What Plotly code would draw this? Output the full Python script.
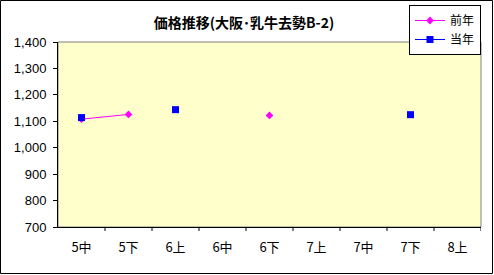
import plotly.graph_objects as go

categories = ["5中", "5下", "6上", "6中", "6下", "7上", "7中", "7下", "8上"]
prev_year = [1108, 1126, None, None, 1122, None, None, None, None]
curr_year = [1114, None, 1144, None, None, None, None, 1125, None]
y_ticks = [700, 800, 900, 1000, 1100, 1200, 1300, 1400]

FONT = "Noto Sans CJK JP"
x_idx = list(range(len(categories)))

L, R, T, B = 58, 13, 42, 48
W, H = 494, 275
PW, PH = W - L - R, H - T - B

fig = go.Figure()
fig.add_trace(go.Scatter(
    x=x_idx, y=prev_year, name="前年", mode="lines+markers",
    line=dict(color="#FF00FF", width=1),
    marker=dict(symbol="diamond", size=6, color="#FF00FF"),
    connectgaps=False,
))
fig.add_trace(go.Scatter(
    x=x_idx, y=curr_year, name="当年", mode="lines+markers",
    line=dict(color="#0000FF", width=1),
    marker=dict(symbol="square", size=7, color="#0000FF"),
    connectgaps=False,
))

fig.update_layout(
    width=W, height=H,
    margin=dict(l=L, r=R, t=T, b=B, autoexpand=False),
    paper_bgcolor="white",
    plot_bgcolor="#FFFFCC",
    font=dict(family=FONT, size=12, color="black"),
    title=dict(text="<b>価格推移(大阪･乳牛去勢B-2)</b>", x=0.494, xanchor="center",
               y=1 - 23 / H, yanchor="middle", font=dict(family=FONT, size=14, color="black")),
    showlegend=True,
    legend=dict(x=1.0, xanchor="right", y=1 + 37 / PH, yanchor="top",
                bordercolor="black", borderwidth=1, bgcolor="white",
                font=dict(family=FONT, size=12), tracegroupgap=0,
                itemwidth=30),
    xaxis=dict(
        tickmode="array", tickvals=x_idx, ticktext=categories,
        range=[-0.5, len(categories) - 0.5],
        showgrid=False, zeroline=False,
        showline=True, linecolor="black", linewidth=1,
        ticks="", ticklabelstandoff=8,
        tickfont=dict(family=FONT, size=13),
    ),
    yaxis=dict(
        range=[700, 1400], tickmode="array", tickvals=y_ticks,
        tickformat=",d",
        showgrid=False, zeroline=False,
        showline=True, linecolor="black", linewidth=1,
        ticks="outside", ticklen=4, tickcolor="black",
        ticklabelstandoff=4,
        tickfont=dict(family="Liberation Sans", size=13),
    ),
)

# category boundary ticks on x axis
for i in range(1, len(categories) + 1):
    fig.add_shape(type="line", xref="x", yref="paper",
                  x0=i - 0.5, x1=i - 0.5, y0=0, y1=-4 / PH,
                  line=dict(color="black", width=1))
# gray plot-area border
fig.add_shape(type="rect", xref="paper", yref="paper", x0=0, x1=1, y0=0, y1=1,
              line=dict(color="#808080", width=1), layer="below")
# outer chart border
fig.add_shape(type="rect", xref="paper", yref="paper",
              x0=(-L + 0.5) / PW, x1=1 + (R - 1.5) / PW,
              y0=(-B + 1.5) / PH, y1=1 + (T - 0.5) / PH,
              line=dict(color="black", width=1))

fig.write_html("out.html")
